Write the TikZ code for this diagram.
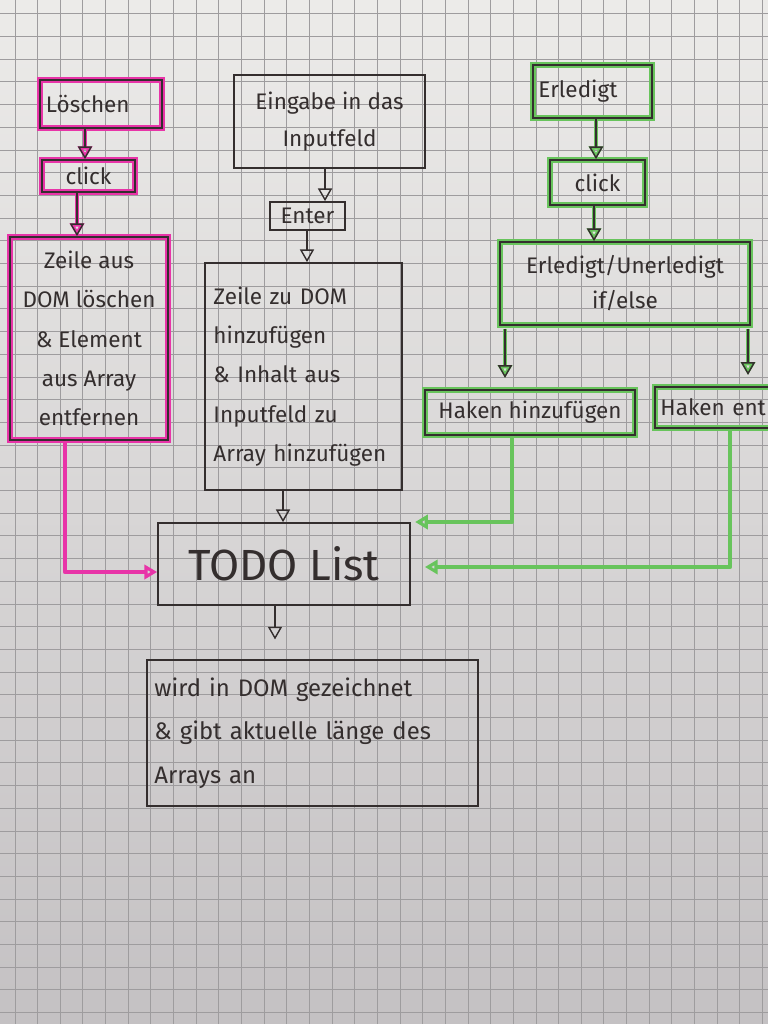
\documentclass[tikz,border=0pt]{standalone}
\usepackage{fontspec}
\setmainfont{Fira Sans}
\usetikzlibrary{arrows.meta}

\definecolor{papertop}{RGB}{236,235,233}
\definecolor{paperbottom}{RGB}{196,193,195}
\definecolor{gridgray}{RGB}{158,156,158}
\definecolor{ink}{RGB}{52,46,46}
\definecolor{hlpink}{RGB}{232,52,168}
\definecolor{hlgreen}{RGB}{104,196,92}

\tikzset{
  gridline/.style={draw=gridgray, line width=0.65pt},
  plainbox/.style={draw=ink, line width=1.2pt, inner sep=4pt, text=ink,
    font=\fontsize{16}{27}\selectfont, align=center},
  pinkbox/.style={plainbox, preaction={draw=hlpink, line width=4pt}},
  greenbox/.style={plainbox, preaction={draw=hlgreen, line width=4pt}},
  arr/.style={draw=ink, line width=1pt, -{Triangle[open,length=9pt,width=10pt]}},
  pinkarr/.style={arr, preaction={draw=hlpink, line width=3pt, -{Triangle[open,length=9pt,width=10pt]}}},
  greenarr/.style={arr, preaction={draw=hlgreen, line width=3pt, -{Triangle[open,length=9pt,width=10pt]}}},
  pinkline/.style={draw=hlpink, line width=3pt, line join=round,
    -{Triangle[open,length=9pt,width=10pt]}},
  greenline/.style={draw=hlgreen, line width=3pt, line join=round,
    -{Triangle[open,length=9pt,width=10pt]}},
}

\begin{document}
\begin{tikzpicture}[x=0.025cm, y=-0.025cm]
\useasboundingbox (0,0) rectangle (768,1024);
\clip (0,0) rectangle (768,1024);

% squared paper
\shade[top color=papertop, bottom color=paperbottom] (0,0) rectangle (768,1024);
\foreach \i in {0,...,34} \draw[gridline] (15+\i*22.65,0) -- ++(0,1024);
\foreach \j in {0,...,45} \draw[gridline] (0,13.8+\j*22.7) -- ++(768,0);

% left column: delete an entry
\node[pinkbox, minimum width=3.05cm, minimum height=1.2cm, text width=2.75cm, align=left]
  (loesch) at (101,104) {Löschen};
\node[pinkbox, minimum width=2.325cm, minimum height=0.8cm] (clickL) at (88.5,176) {click};
\node[pinkbox, minimum width=3.95cm, minimum height=5.075cm, font=\fontsize{16}{28}\selectfont]
  (zeileAus) at (89,338.5) {Zeile aus\\DOM löschen\\\& Element\\aus Array\\entfernen};

% middle column: add an entry
\node[plainbox, minimum width=4.775cm, minimum height=2.325cm, font=\fontsize{16}{26}\selectfont]
  (eingabe) at (329.5,121.5) {Eingabe in das\\Inputfeld};
\node[plainbox, minimum width=1.875cm, minimum height=0.7cm, inner sep=1pt] (enter) at (307.5,216) {Enter};
\node[plainbox, minimum width=4.925cm, minimum height=5.675cm, text width=4.5cm, align=left,
  font=\fontsize{16}{28}\selectfont]
  (zeileZu) at (303.5,376.5) {Zeile zu DOM\\hinzufügen\\\& Inhalt aus\\Inputfeld zu\\Array hinzufügen};

% the list and its rendering
\node[plainbox, minimum width=6.3cm, minimum height=2.05cm, font=\fontsize{31}{36}\selectfont]
  (todo) at (284,564) {TODO List};
\node[plainbox, minimum width=8.275cm, minimum height=3.65cm, text width=7.9cm, align=left,
  font=\fontsize{17}{31}\selectfont]
  (wird) at (312.5,733) {wird in DOM gezeichnet\\\& gibt aktuelle länge des\\Arrays an};

% right column: toggle done state
\node[greenbox, minimum width=2.975cm, minimum height=1.325cm, text width=2.7cm, align=left]
  (erl) at (592.5,91.5) {Erledigt};
\node[greenbox, minimum width=2.375cm, minimum height=1.125cm] (clickR) at (597.5,182.5) {click};
\node[greenbox, minimum width=6.25cm, minimum height=2.075cm, font=\fontsize{16}{25}\selectfont]
  (ifelse) at (625,283.5) {Erledigt/Unerledigt\\if/else};
\node[greenbox, minimum width=5.25cm, minimum height=1.125cm] (hakenH) at (530,412.5) {Haken hinzufügen};
\node[greenbox, minimum width=3.625cm, minimum height=1.025cm, text width=3.35cm, align=left]
  (hakenE) at (727.5,407.5) {Haken ent};

% connectors, left column
\draw[pinkarr] (loesch.south -| 85,0) -- (clickL.north -| 85,0);
\draw[pinkarr] (clickL.south -| 77,0) -- (zeileAus.north -| 77,0);
\draw[pinkline] (zeileAus.south -| 65,0) |- (todo.west |- 0,572);

% connectors, middle column
\draw[arr] (eingabe.south -| 325,0) -- (enter.north -| 325,0);
\draw[arr] (enter.south -| 307,0) -- (zeileZu.north -| 307,0);
\draw[arr] (zeileZu.south -| 283,0) -- (todo.north -| 283,0);
\draw[arr] (todo.south -| 275,0) -- ([yshift=14pt]wird.north -| 275,0);

% connectors, right column
\draw[greenarr] (erl.south -| 596,0) -- (clickR.north -| 596,0);
\draw[greenarr] (clickR.south -| 594,0) -- (ifelse.north -| 594,0);
\draw[greenarr] ([yshift=-2pt]ifelse.south -| 505,0) -- ([yshift=8pt]hakenH.north -| 505,0);
\draw[greenarr] ([yshift=-2pt]ifelse.south -| 748,0) -- ([yshift=8pt]hakenE.north -| 748,0);
\draw[greenline, shorten >=3pt] (hakenH.south -| 512,0) |- (todo.east |- 0,522);
\draw[greenline, shorten >=10pt] (hakenE.south -| 730,0) |- (todo.east |- 0,567);
\end{tikzpicture}
\end{document}
